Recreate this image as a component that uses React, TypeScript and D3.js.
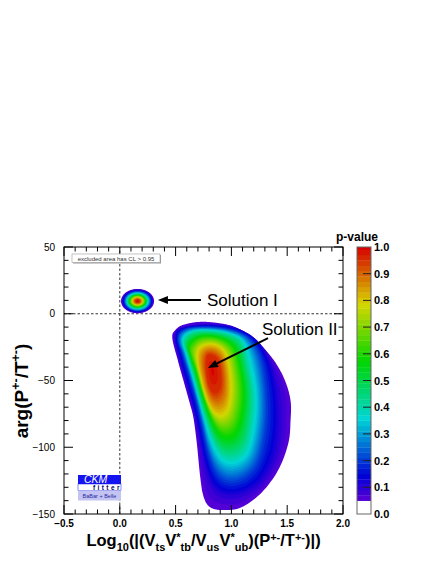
import React from 'react';
import * as d3 from 'd3';

const FONT = "'Liberation Sans', Arial, Helvetica, sans-serif";
const W = 436;
const H = 564;

// ---------- axes ----------
const xDomain: [number, number] = [-0.5, 2.0];
const yDomain: [number, number] = [-150, 50];
const xMajorTicks = [-0.5, 0, 0.5, 1.0, 1.5, 2.0];
const xTickLabels = ['\u22120.5', '0.0', '0.5', '1.0', '1.5', '2.0'];
const yMajorTicks = [-150, -100, -50, 0, 50];
const yTickLabels = ['\u2212150', '\u2212100', '\u221250', '0', '50'];
const xMinorTicks = [-0.4, -0.3, -0.2, -0.1, 0.1, 0.2, 0.3, 0.4, 0.6, 0.7, 0.8, 0.9, 1.1, 1.2, 1.3, 1.4, 1.6, 1.7, 1.8, 1.9];
const yMinorTicks = [-140, -130, -120, -110, -90, -80, -70, -60, -40, -30, -20, -10, 10, 20, 30, 40];
const pTicks = [0, 0.1, 0.2, 0.3, 0.4, 0.5, 0.6, 0.7, 0.8, 0.9, 1.0];
const pTickLabels = ['0.0', '0.1', '0.2', '0.3', '0.4', '0.5', '0.6', '0.7', '0.8', '0.9', '1.0'];
const pExcluded = 0.05; // excluded area has CL > 0.95
const pBandStep = 0.02;

// ---------- p-value contours ----------
const contourLevels = [0.95, 0.8, 0.6, 0.4, 0.2, 0.1, 0.05];

// Solution II
const solIIPeak: [number, number] = [0.83, -43];
const solIIRing95: [number, number][] = [[0.781, -31.6], [0.835, -30.9], [0.889, -35.4], [0.907, -44.4], [0.907, -54.1], [0.871, -59.4], [0.826, -58.6], [0.790, -51.9], [0.772, -40.6]];
const solIIRing80: [number, number][] = [[0.710, -27.2], [0.781, -23.4], [0.871, -24.2], [0.943, -30.2], [0.979, -43.6], [0.987, -58.6], [0.961, -70.6], [0.898, -75.1], [0.826, -71.3], [0.772, -61.6], [0.728, -48.1], [0.701, -36.1]];
const solIIRing60: [number, number][] = [[0.629, -24.2], [0.710, -18.2], [0.826, -17.4], [0.943, -20.4], [1.023, -27.2], [1.068, -40.6], [1.095, -58.6], [1.077, -75.1], [1.023, -87.1], [0.943, -90.1], [0.871, -85.6], [0.799, -73.6], [0.737, -58.6], [0.683, -42.1], [0.638, -30.9]];
const solIIRing40: [number, number][] = [[0.575, -19.7], [0.656, -13.7], [0.808, -12.9], [0.970, -15.2], [1.095, -21.2], [1.149, -37.6], [1.194, -58.6], [1.185, -79.6], [1.131, -100.6], [1.023, -108.1], [0.916, -105.8], [0.835, -94.6], [0.772, -79.6], [0.719, -64.6], [0.665, -48.1], [0.611, -32.4]];
const solIIRing20: [number, number][] = [[0.522, -18.2], [0.593, -11.4], [0.781, -9.9], [1.005, -12.2], [1.166, -18.9], [1.265, -33.1], [1.310, -57.1], [1.310, -83.3], [1.247, -109.6], [1.131, -122.3], [0.987, -126.0], [0.871, -120.0], [0.790, -103.6], [0.737, -83.3], [0.683, -64.6], [0.620, -45.9], [0.566, -30.9]];
const solIIRing10: [number, number][] = [[0.495, -17.4], [0.548, -10.7], [0.772, -8.1], [1.014, -9.9], [1.211, -18.2], [1.337, -33.1], [1.409, -53.4], [1.435, -79.6], [1.400, -105.8], [1.274, -126.0], [1.113, -135.0], [0.952, -136.5], [0.835, -130.5], [0.763, -113.3], [0.710, -90.8], [0.656, -70.6], [0.593, -51.1], [0.530, -33.1]];
const solIIRing05: [number, number][] = [[0.47, -18], [0.50, -12], [0.58, -8], [0.76, -6], [1.00, -9], [1.15, -16], [1.27, -24], [1.39, -36], [1.48, -50], [1.53, -65], [1.53, -80], [1.51, -97], [1.42, -117], [1.27, -134], [1.09, -145], [0.93, -147], [0.81, -145], [0.75, -137], [0.72, -122], [0.69, -97], [0.66, -78], [0.63, -68], [0.58, -53], [0.52, -35]];

// Solution I (nearly elliptical contours), semi-axes per contour level
const solIPeak: [number, number] = [0.159, 9.5];
const solIRx = [0.020, 0.045, 0.068, 0.090, 0.118, 0.134, 0.148];
const solIRy = [1.3, 2.8, 4.2, 5.6, 7.3, 8.3, 9.1];

// annotations (text start, arrow tail, arrow tip) in data units
const annotations = [
  { label: 'Solution I', at: [0.781, 5.8], from: [0.727, 10.3], to: [0.342, 10.3] },
  { label: 'Solution II', at: [1.274, -15.9], from: [1.328, -18.2], to: [0.790, -40.6] },
];

// ---------- helpers ----------
const margin = { left: 64, right: 343, top: 247, bottom: 514 };
const x = d3.scaleLinear().domain(xDomain).range([margin.left, margin.right]);
const y = d3.scaleLinear().domain(yDomain).range([margin.bottom, margin.top]);
const pScale = d3.scaleLinear().domain([0, 1]).range([margin.bottom, margin.top]);
const bar = { x0: 357, x1: 371 };

const pColor = (p: number) => d3.hsl(280 * (1 - p), 1, 0.42).formatHex();

type P = [number, number];

function densify(pts: P[], n: number): P[] {
  const out: P[] = [];
  const m = pts.length;
  for (let i = 0; i < m; i++) {
    const p0 = pts[(i - 1 + m) % m], p1 = pts[i], p2 = pts[(i + 1) % m], p3 = pts[(i + 2) % m];
    for (let k = 0; k < n; k++) {
      const t = k / n, t2 = t * t, t3 = t2 * t;
      const f = (a: number, b: number, c: number, d: number) =>
        0.5 * (2 * b + (-a + c) * t + (2 * a - 5 * b + 4 * c - d) * t2 + (-a + 3 * b - 3 * c + d) * t3);
      out.push([f(p0[0], p1[0], p2[0], p3[0]), f(p0[1], p1[1], p2[1], p3[1])]);
    }
  }
  return out;
}

function rayRadius(c: P, ang: number, poly: P[]): number {
  const dx = Math.cos(ang), dy = Math.sin(ang);
  let best = 0;
  for (let i = 0; i < poly.length; i++) {
    const a = poly[i], b = poly[(i + 1) % poly.length];
    const ex = b[0] - a[0], ey = b[1] - a[1];
    const den = dx * ey - dy * ex;
    if (Math.abs(den) < 1e-12) continue;
    const wx = a[0] - c[0], wy = a[1] - c[1];
    const t = (wx * ey - wy * ex) / den;
    const s = (wx * dy - wy * dx) / den;
    if (s >= -1e-9 && s <= 1 + 1e-9 && t > best) best = t;
  }
  return best;
}

const N_ANG = 360;
const angles = d3.range(N_ANG).map((j) => (j / N_ANG) * Math.PI * 2);
const bandLevels = d3.range(Math.round((1 - pExcluded) / pBandStep)).map((i) => +(pExcluded + i * pBandStep).toFixed(3));
const lineGen = d3.line<P>().curve(d3.curveLinearClosed);

function buildBands(peak: P, rings: P[][]) {
  const c: P = [x(peak[0]), y(peak[1])];
  const radii = rings.map((ring) => {
    const px = densify(ring.map(([a, b]) => [x(a), y(b)] as P), 14);
    return angles.map((a) => rayRadius(c, a, px));
  });
  const lv = [1.0, ...contourLevels];
  const rr = [angles.map(() => 0), ...radii];
  return bandLevels.map((L) => {
    let i = 0;
    while (i < lv.length - 2 && L < lv[i + 1]) i++;
    const f = (lv[i] - L) / (lv[i] - lv[i + 1]);
    const pts = angles.map((a, j) => {
      const r = rr[i][j] + f * (rr[i + 1][j] - rr[i][j]);
      return [c[0] + r * Math.cos(a), c[1] + r * Math.sin(a)] as P;
    });
    return { L, d: lineGen(pts) as string, fill: pColor(Math.min(1, L + pBandStep / 2)) };
  });
}

const solIIBands = buildBands(solIIPeak, [solIIRing95, solIIRing80, solIIRing60, solIIRing40, solIIRing20, solIIRing10, solIIRing05]);
const solIRings: P[][] = solIRx.map((rx, k) =>
  d3.range(0, 360, 15).map((deg) => {
    const t = (deg * Math.PI) / 180;
    return [solIPeak[0] + rx * Math.cos(t), solIPeak[1] + solIRy[k] * Math.sin(t)] as P;
  })
);
const solIBands = buildBands(solIPeak, solIRings);

type Seg = { t: string; k?: 'sub' | 'sup' };
function rich(segs: Seg[], small: number, subDy: number, supDy: number) {
  let cur = 0;
  return segs.map((s, i) => {
    const target = s.k === 'sub' ? subDy : s.k === 'sup' ? supDy : 0;
    const dy = target - cur;
    cur = target;
    return (
      <tspan key={i} dy={dy} fontSize={s.k ? small : undefined}>
        {s.t}
      </tspan>
    );
  });
}

const xTitle: Seg[] = [
  { t: 'Log' }, { t: '10', k: 'sub' }, { t: '(|(V' }, { t: 'ts', k: 'sub' }, { t: 'V' }, { t: '*', k: 'sup' }, { t: 'tb', k: 'sub' },
  { t: '/V' }, { t: 'us', k: 'sub' }, { t: 'V' }, { t: '*', k: 'sup' }, { t: 'ub', k: 'sub' }, { t: ')(P' }, { t: '+-', k: 'sup' },
  { t: '/T' }, { t: '+-', k: 'sup' }, { t: ')|)' },
];
const yTitle: Seg[] = [{ t: 'arg(P' }, { t: '+-', k: 'sup' }, { t: '/T' }, { t: '+-', k: 'sup' }, { t: ')' }];

function Arrow({ from, to }: { from: number[]; to: number[] }) {
  const x1 = x(from[0]), y1 = y(from[1]), x2 = x(to[0]), y2 = y(to[1]);
  const len = Math.hypot(x2 - x1, y2 - y1);
  const ux = (x2 - x1) / len, uy = (y2 - y1) / len;
  const hl = 10, hw = 4;
  const bx = x2 - ux * hl, by = y2 - uy * hl;
  const head = `M${x2},${y2}L${bx - uy * hw},${by + ux * hw}L${bx + uy * hw},${by - ux * hw}Z`;
  return (
    <g>
      <line x1={x1} y1={y1} x2={bx + ux * 1} y2={by + uy * 1} stroke="#000" strokeWidth={2} />
      <path d={head} fill="#000" />
    </g>
  );
}

export default function App() {
  return (
    <svg width={W} height={H} style={{ position: 'absolute', left: 0, top: 0, background: '#fff' }} fontFamily={FONT}>
      <rect x={0} y={0} width={W} height={H} fill="#fff" />
      {/* dashed reference lines */}
      <line x1={x(xDomain[0])} x2={x(xDomain[1])} y1={y(0)} y2={y(0)} stroke="#000" strokeWidth={0.8} strokeDasharray="2.5,2" />
      <line x1={x(0)} x2={x(0)} y1={y(yDomain[0])} y2={y(yDomain[1])} stroke="#000" strokeWidth={0.8} strokeDasharray="2.5,2" />

      {/* contours */}
      <g>
        {solIIBands.map((b) => (
          <path key={'II' + b.L} d={b.d} fill={b.fill} />
        ))}
        {solIBands.map((b) => (
          <path key={'I' + b.L} d={b.d} fill={b.fill} />
        ))}
      </g>

      {/* frame & ticks */}
      <rect x={margin.left} y={margin.top} width={margin.right - margin.left} height={margin.bottom - margin.top} fill="none" stroke="#000" strokeWidth={1} />
      {xMajorTicks.map((v) => (
        <g key={'xM' + v}>
          <line x1={x(v)} x2={x(v)} y1={margin.bottom} y2={margin.bottom - 9} stroke="#000" />
          <line x1={x(v)} x2={x(v)} y1={margin.top} y2={margin.top + 9} stroke="#000" />
        </g>
      ))}
      {xMinorTicks.map((v) => (
        <g key={'xm' + v}>
          <line x1={x(v)} x2={x(v)} y1={margin.bottom} y2={margin.bottom - 4.5} stroke="#000" />
          <line x1={x(v)} x2={x(v)} y1={margin.top} y2={margin.top + 4.5} stroke="#000" />
        </g>
      ))}
      {yMajorTicks.map((v) => (
        <g key={'yM' + v}>
          <line y1={y(v)} y2={y(v)} x1={margin.left} x2={margin.left + 9} stroke="#000" />
          <line y1={y(v)} y2={y(v)} x1={margin.right} x2={margin.right - 9} stroke="#000" />
        </g>
      ))}
      {yMinorTicks.map((v) => (
        <g key={'ym' + v}>
          <line y1={y(v)} y2={y(v)} x1={margin.left} x2={margin.left + 4.5} stroke="#000" />
          <line y1={y(v)} y2={y(v)} x1={margin.right} x2={margin.right - 4.5} stroke="#000" />
        </g>
      ))}
      {xMajorTicks.map((v, i) => (
        <text key={'xl' + v} x={x(v)} y={527} textAnchor="middle" fontSize={10} fontWeight="bold" fill="#000">
          {xTickLabels[i]}
        </text>
      ))}
      {yMajorTicks.map((v, i) => (
        <text key={'yl' + v} x={55} y={y(v) + 3.5} textAnchor="end" fontSize={10} fill="#000">
          {yTickLabels[i]}
        </text>
      ))}

      {/* axis titles */}
      <text x={(margin.left + margin.right) / 2} y={546} textAnchor="middle" fontSize={16.5} fontWeight="bold">
        {rich(xTitle, 11, 5, -5.5)}
      </text>
      <text transform="translate(28,391) rotate(-90)" textAnchor="middle" fontSize={19} fontWeight="bold">
        {rich(yTitle, 12.5, 5, -8)}
      </text>

      {/* legend box */}
      <rect x={73} y={255} width={88} height={8.5} fill="#999" />
      <rect x={72} y={254} width={88} height={8.5} fill="#fff" stroke="#999" strokeWidth={0.6} />
      <text x={116} y={260.6} textAnchor="middle" fontSize={6} fill="#333">
        excluded area has CL &gt; 0.95
      </text>

      {/* CKMfitter logo */}
      <rect x={78} y={475} width={43} height={9} fill="#1414f0" />
      <text x={84} y={483} fontSize={10.5} fontStyle="italic" fill="#fff">CKM</text>
      <rect x={78} y={484} width={43} height={6.5} fill="#fff" stroke="#1414f0" strokeWidth={0.5} />
      <text x={93} y={490} fontSize={6.5} fontWeight="bold" fill="#000060" letterSpacing={2.4}>fitter</text>
      <rect x={78} y={490.5} width={43} height={10} fill="#c4c4f2" />
      <text x={99.5} y={497.5} textAnchor="middle" fontSize={5.5} fill="#2828a0">BaBar + Belle</text>

      {/* annotations */}
      {annotations.map((a) => (
        <g key={a.label}>
          <text x={x(a.at[0])} y={y(a.at[1])} fontSize={17} fill="#000">{a.label}</text>
          <Arrow from={a.from} to={a.to} />
        </g>
      ))}

      {/* color bar */}
      <rect x={bar.x0} y={pScale(pExcluded)} width={bar.x1 - bar.x0} height={pScale(0) - pScale(pExcluded)} fill="#fff" />
      {bandLevels.map((L) => {
        const top = Math.min(1, L + pBandStep);
        return (
          <rect key={'cb' + L} x={bar.x0} y={pScale(top)} width={bar.x1 - bar.x0} height={pScale(L) - pScale(top) + 0.3} fill={pColor(Math.min(1, L + pBandStep / 2))} />
        );
      })}
      <rect x={bar.x0} y={pScale(1)} width={bar.x1 - bar.x0} height={pScale(0) - pScale(1)} fill="none" stroke="#666" strokeWidth={1} />
      {pTicks.map((v, i) => (
        <g key={'pt' + v}>
          {i > 0 && i < pTicks.length - 1 && <line x1={bar.x1} x2={bar.x1 - 8} y1={pScale(v)} y2={pScale(v)} stroke="#222" />}
          <text x={374} y={pScale(v) + 4} fontSize={11} fontWeight="bold">{pTickLabels[i]}</text>
        </g>
      ))}
      <text x={357} y={241} textAnchor="middle" fontSize={12} fontWeight="bold">p-value</text>
    </svg>
  );
}
